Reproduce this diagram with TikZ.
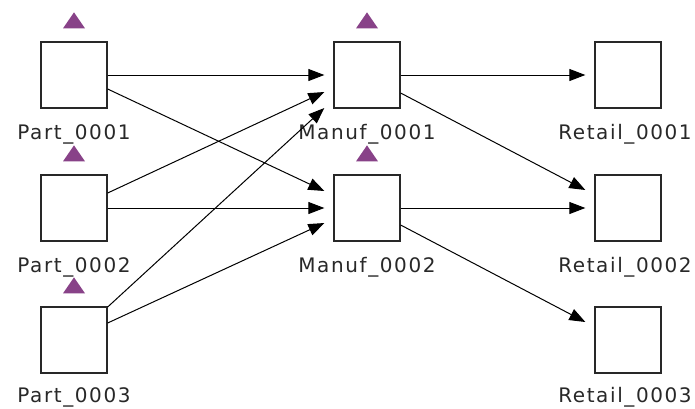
\documentclass[tikz,border=0pt]{standalone}
\usepackage{fontspec}
\setmainfont[LetterSpace=8]{DejaVu Sans}
\definecolor{flagpurple}{RGB}{136,66,136}
\definecolor{boxgray}{RGB}{40,40,40}
\usetikzlibrary{arrows.meta,positioning}

\tikzset{
  box/.style={draw=boxgray, line width=1.3pt, minimum size=66pt, inner sep=0pt},
  lbl/.style={anchor=base, inner sep=0pt, text=boxgray, font=\fontsize{20}{22}\selectfont},
  flow/.style={line width=1pt, -{Triangle[length=16pt,width=12pt]}},
  flag/.style={fill=flagpurple}
}

\begin{document}
\begin{tikzpicture}[x=1pt,y=-1pt]
  \useasboundingbox (0,0) rectangle (695,408);

  % boxes
  \node[box] (p1) at (74,75) {};
  \node[box] (p2) at (74,208) {};
  \node[box] (p3) at (74,340) {};
  \node[box] (m1) at (367,75) {};
  \node[box] (m2) at (367,208) {};
  \node[box] (r1) at (628,75) {};
  \node[box] (r2) at (628,208) {};
  \node[box] (r3) at (628,340) {};

  % labels
  \node[lbl] (p1l) at ([yshift=-31pt]p1.south) {Part\_0001};
  \node[lbl] (p2l) at ([yshift=-31pt]p2.south) {Part\_0002};
  \node[lbl] (p3l) at ([yshift=-29pt]p3.south) {Part\_0003};
  \node[lbl] (m1l) at ([yshift=-31pt]m1.south) {Manuf\_0001};
  \node[lbl] (m2l) at ([yshift=-31pt]m2.south) {Manuf\_0002};
  \node[lbl] (r1l) at ([xshift=-3pt,yshift=-31pt]r1.south) {Retail\_0001};
  \node[lbl] (r2l) at ([xshift=-3pt,yshift=-31pt]r2.south) {Retail\_0002};
  \node[lbl] (r3l) at ([xshift=-3pt,yshift=-29pt]r3.south) {Retail\_0003};

  % flags
  \foreach \n in {p1,p2,p3,m1,m2} {
    \fill[flag] ([shift={(-11pt,13pt)}]\n.north) -- ([shift={(11pt,13pt)}]\n.north)
      -- ([shift={(0pt,29pt)}]\n.north) -- cycle;
  }

  % parts to manufacturers
  \draw[flow] (p1.east) -- ([xshift=-9pt]m1.west);
  \draw[flow] ([yshift=-14pt]p1.east) -- ([xshift=-9pt,yshift=17pt]m2.west);
  \draw[flow] ([yshift=15pt]p2.east) -- ([xshift=-9pt,yshift=-17pt]m1.west);
  \draw[flow] (p2.east) -- ([xshift=-9pt]m2.west);
  \draw[flow] ([yshift=33pt]p3.east) -- ([xshift=-9pt,yshift=-33pt]m1.west);
  \draw[flow] ([yshift=17pt]p3.east) -- ([xshift=-9pt,yshift=-15pt]m2.west);

  % manufacturers to retailers
  \draw[flow] (m1.east) -- ([xshift=-9pt]r1.west);
  \draw[flow] ([yshift=-18pt]m1.east) -- ([xshift=-9pt,yshift=18pt]r2.west);
  \draw[flow] (m2.east) -- ([xshift=-9pt]r2.west);
  \draw[flow] ([yshift=-17pt]m2.east) -- ([xshift=-9pt,yshift=18pt]r3.west);
\end{tikzpicture}
\end{document}
